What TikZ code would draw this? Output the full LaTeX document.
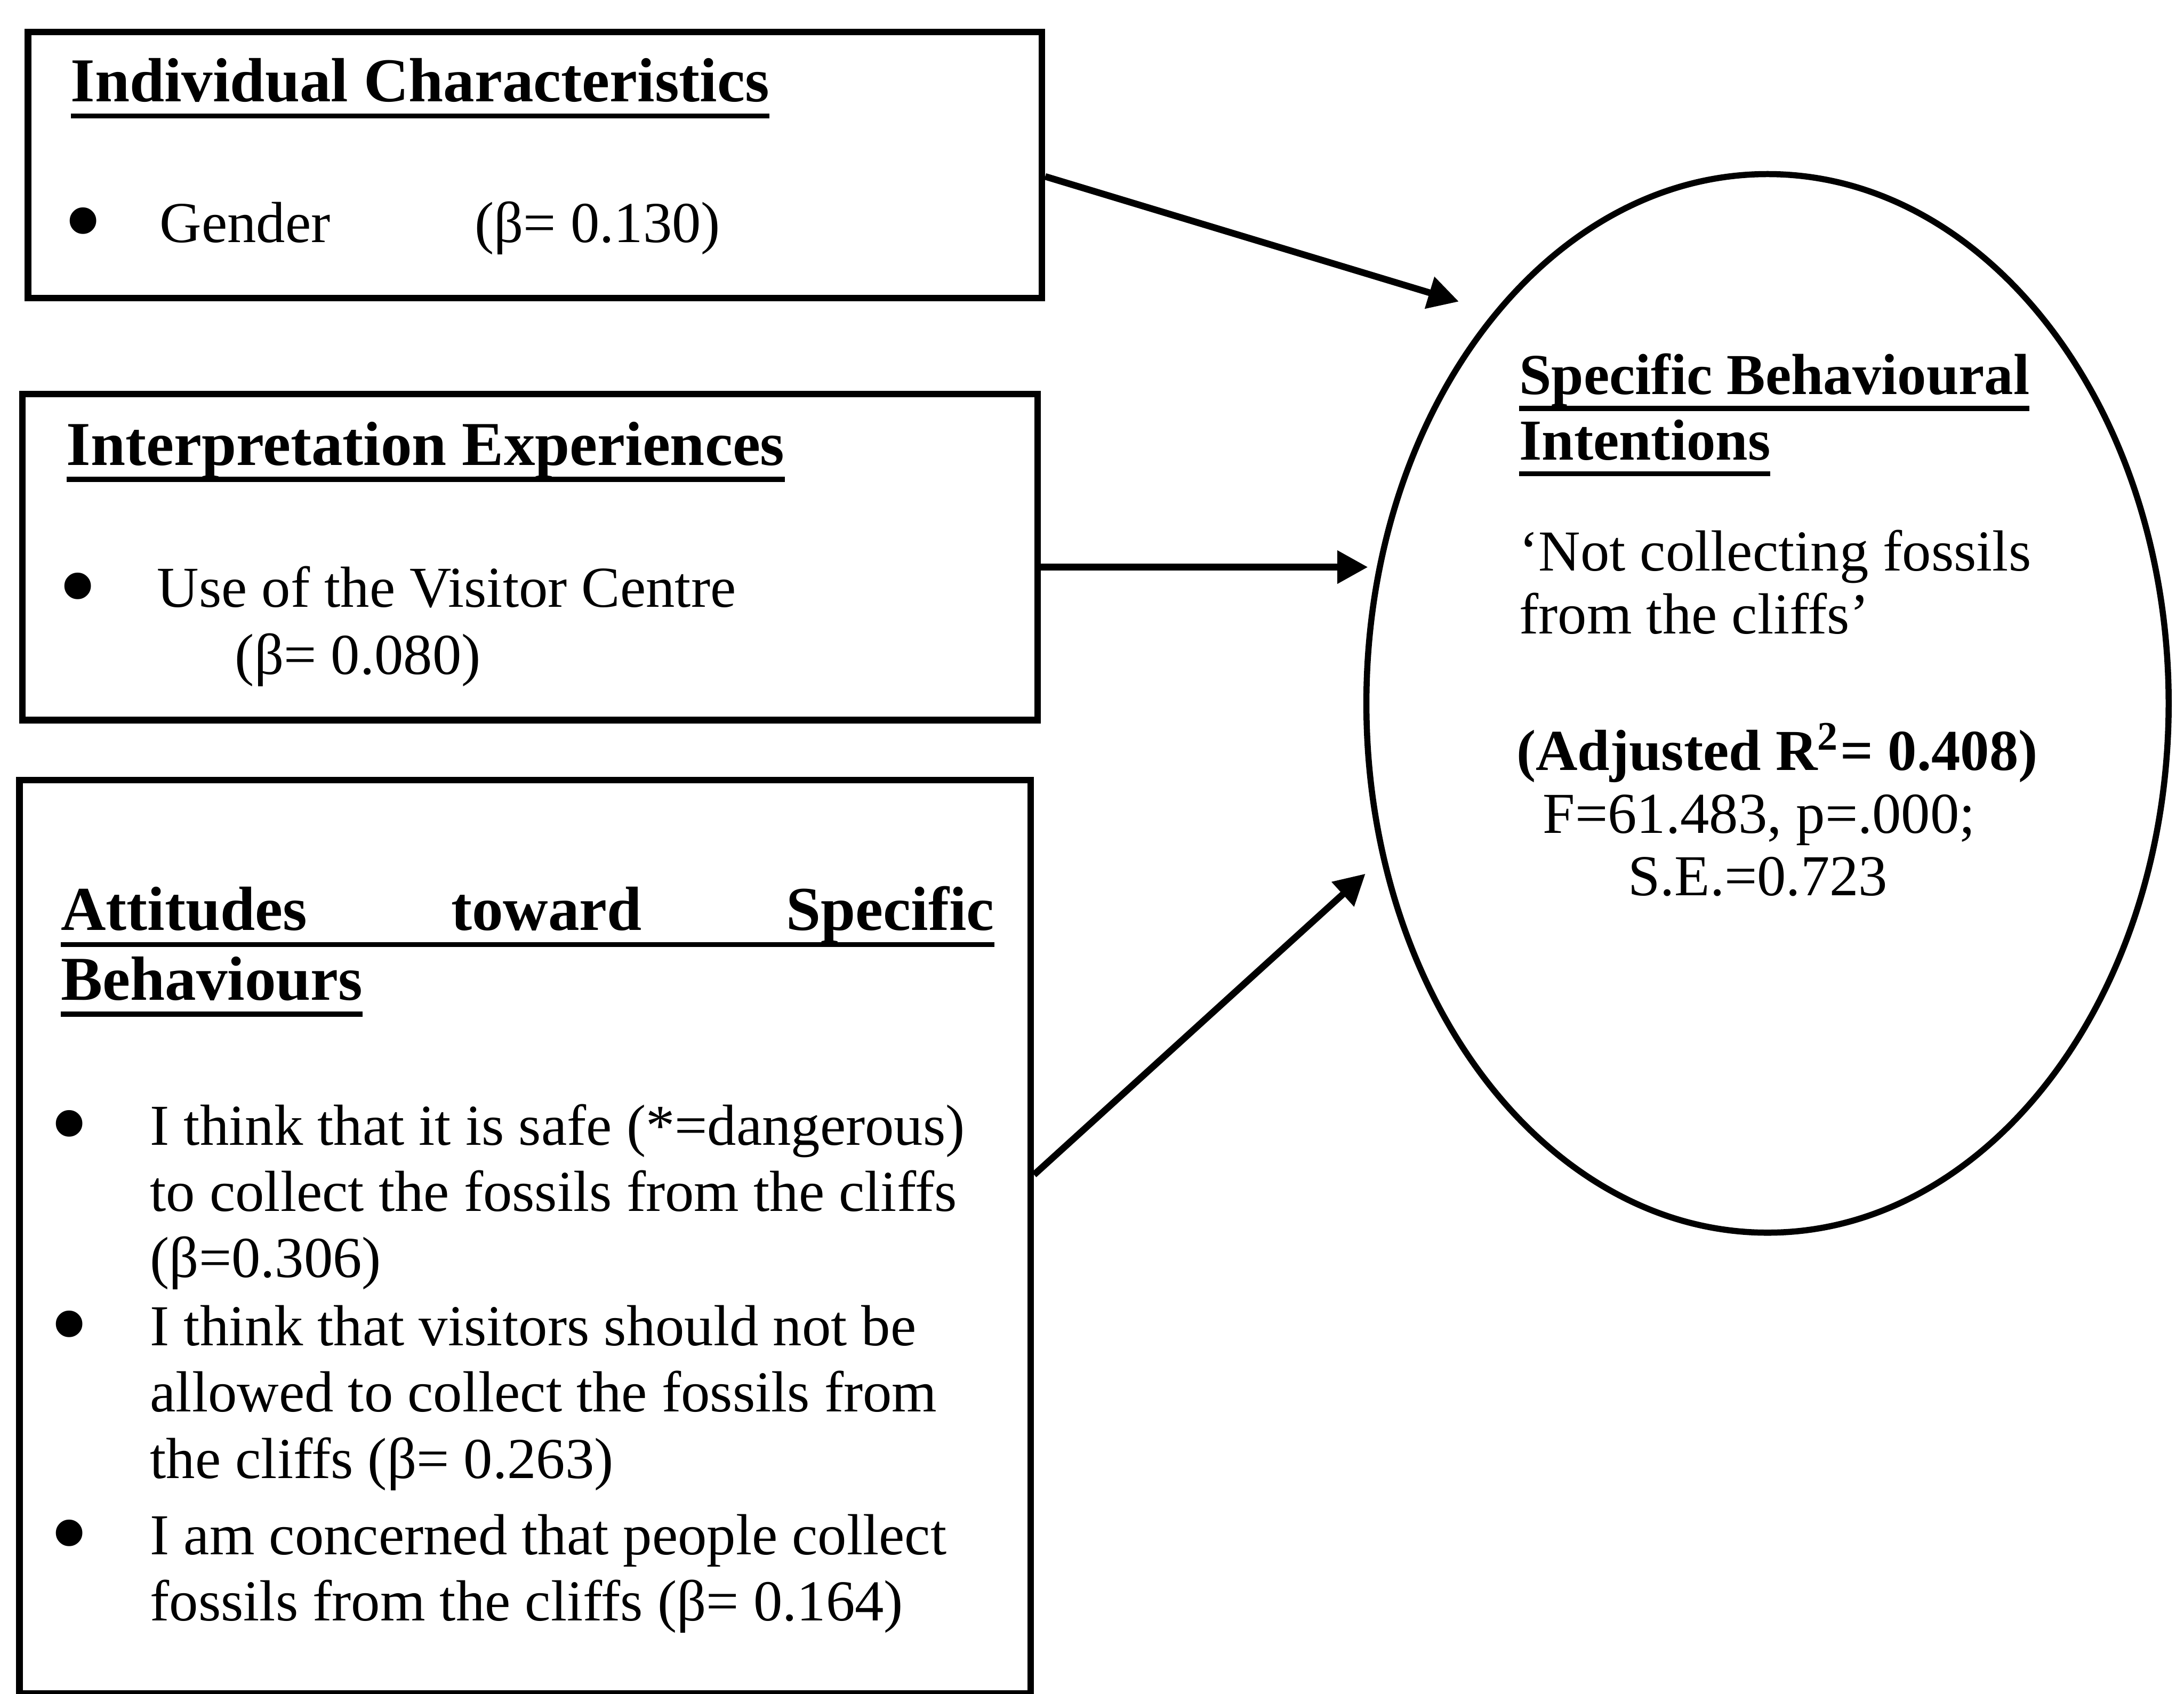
\documentclass[tikz,border=0pt]{standalone}
\usepackage{fontspec}
\setmainfont{Liberation Serif}
\usetikzlibrary{arrows.meta,calc,fit,shapes.geometric}

% underline set at a fixed depth below the baseline, crossing descenders
\newsavebox\ulbox
\newcommand\uline[1]{\sbox\ulbox{#1}\rlap{\rule[-3pt]{\wd\ulbox}{0.9pt}}\usebox\ulbox}
% lines stacked at the current baselineskip, anchored on the first baseline
\newcommand\textlines[1]{\begin{tabular}[t]{@{}l@{}}#1\end{tabular}}
% enlarged list bullet
\newcommand\bigbullet{\raisebox{-2.8pt}{\fontsize{20}{20}\selectfont\textbullet}}

\begin{document}
\begin{tikzpicture}[x=0.25pt,y=-0.25pt,
  panel/.style={draw, line width=1.2pt, inner sep=0pt},
  txt/.style={anchor=base west, inner sep=0pt, font=\fontsize{10.4}{11.9}\selectfont},
  head/.style={anchor=base west, inner sep=0pt, font=\fontsize{11.2}{12.5}\selectfont\bfseries},
  bul/.style={anchor=base west, inner sep=0pt},
  link/.style={-{Triangle[length=5.5pt,width=5.7pt]}, line width=1.2pt}]

\useasboundingbox (0,0) rectangle (1568,1216);

% the three predictor panels
\node[panel, fit={(20,23) (748,214)}] (ic) {};
\node[panel, fit={(16,283) (745,517)}] (ie) {};
\node[panel, fit={(14,560) (740,1216)}] (asb) {};

% outcome
\node[ellipse, draw, line width=1.1pt, minimum width=144pt, minimum height=190pt, inner sep=0pt] (sbi) at (1269,505) {};

% Individual Characteristics
\node[head] (h1) at (50,73) {\uline{Individual Characteristics}};
\node[bul] (b1) at (45,174) {\bigbullet};
\node[txt] (g1) at (114,174) {Gender};
\node[txt] (v1) at (340,174) {(β= 0.130)};

% Interpretation Experiences
\node[head] (h2) at (47,334) {\uline{Interpretation Experiences}};
\node[bul] (b2) at (41,436) {\bigbullet};
\node[txt] (u2) at (112,436) {Use of the Visitor Centre};
\node[txt] (v2) at (168,484) {(β= 0.080)};

% Attitudes toward Specific Behaviours
\node[head] (h3) at (43,668)
  {\textlines{\uline{\makebox[167.5pt][s]{Attitudes\hfill toward\hfill Specific}}\\\uline{Behaviours}}};
\node[bul] (b3a) at (35,822) {\bigbullet};
\node[txt] (i3a) at (107,822)
  {\textlines{I think that it is safe (*=dangerous)\\to collect the fossils from the cliffs\\(β=0.306)}};
\node[bul] (b3b) at (35,966) {\bigbullet};
\node[txt] (i3b) at (107,966)
  {\textlines{I think that visitors should not be\\allowed to collect the fossils from\\the cliffs (β= 0.263)}};
\node[bul] (b3c) at (35,1116) {\bigbullet};
\node[txt] (i3c) at (107,1116)
  {\textlines{I am concerned that people collect\\fossils from the cliffs (β= 0.164)}};

% Specific Behavioural Intentions
\node[txt, font=\fontsize{10.4}{11.75}\selectfont\bfseries] (e1) at (1090,283)
  {\textlines{\uline{Specific Behavioural}\\\uline{Intentions}}};
\node[txt, font=\fontsize{10.4}{11.25}\selectfont] (e2) at (1090,410)
  {\textlines{‘Not collecting fossils\\from the cliffs’}};
\node[txt, font=\fontsize{10.4}{11.9}\selectfont\bfseries] (e3) at (1088,553) {(Adjusted R\textsuperscript{2}= 0.408)};
\node[txt] (e4) at (1107,598) {F=61.483, p=.000;};
\node[txt] (e5) at (1168,643) {S.E.=0.723};

% effects on the outcome
\draw[link, shorten >=6.5pt] ($(ic.north east)!0.542!(ic.south east)$) -- (sbi.125.3);
\coordinate (a2) at ($(ie.north east)!0.53!(ie.south east)$);
\draw[link, shorten >=1.8pt] (a2) -- (a2 -| sbi.160.6);
\draw[link, shorten >=3.8pt] ($(asb.north east)!0.4325!(asb.south east)$) -- (sbi.202.2);

\end{tikzpicture}
\end{document}
